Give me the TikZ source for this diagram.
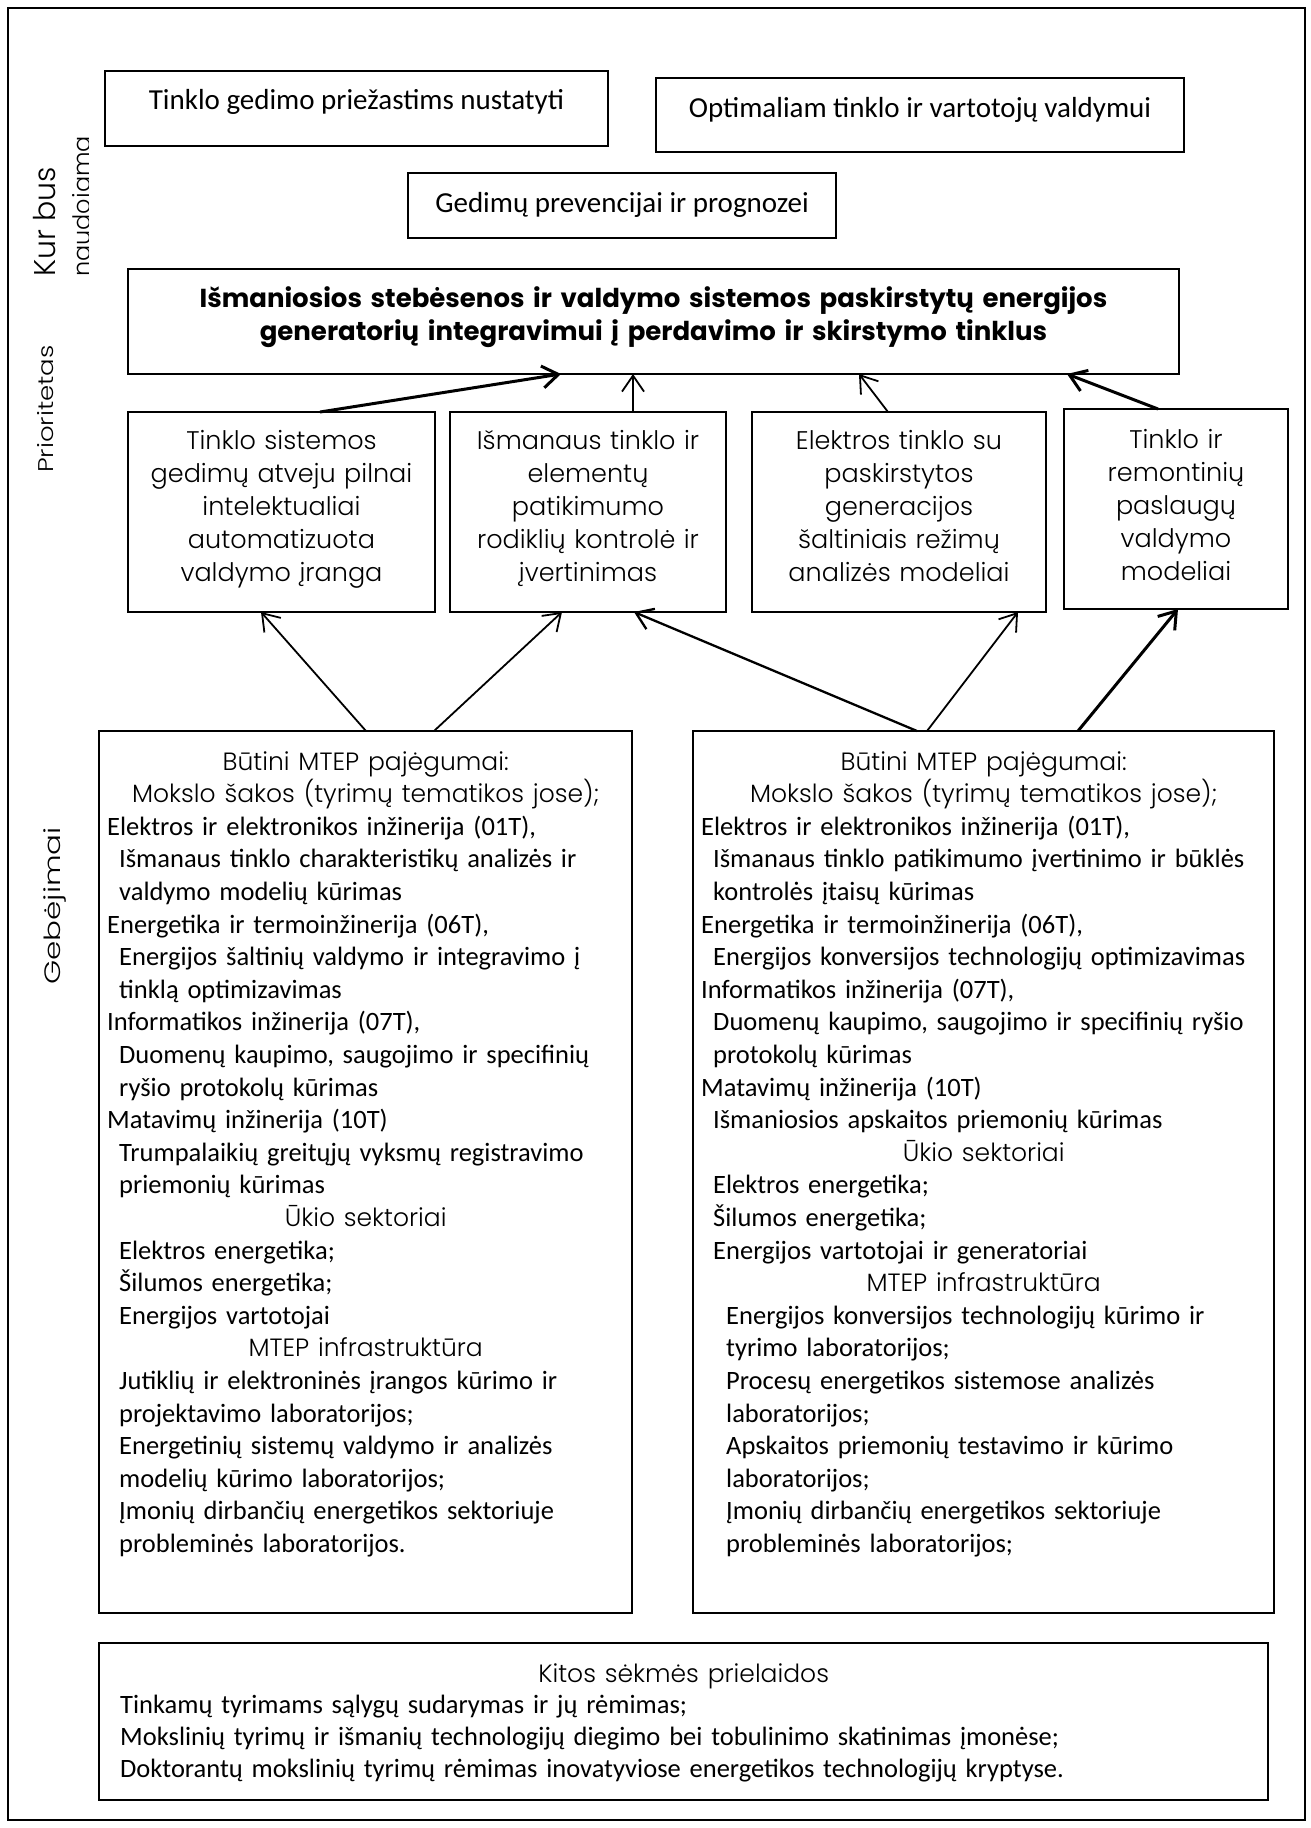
\documentclass[tikz,border=0pt]{standalone}
\usepackage{graphicx}
\usepackage{fontspec}
\setmainfont{Carlito}
\newfontfamily\goth{Poppins}[UprightFont={* Light}, BoldFont={* Bold}]
\usetikzlibrary{arrows.meta}

% centred heading line in the geometric face
\newcommand\cenhd[2]{\makebox[#1][c]{\goth\fontsize{25}{32.6}\selectfont #2}}
\newlength\inA \setlength\inA{8pt}
\newlength\inB \setlength\inB{20pt}
\newlength\inC \setlength\inC{33pt}

\begin{document}
\begin{tikzpicture}[x=1pt,y=-1pt,
  box/.style={draw, line width=1.8pt, inner sep=0pt, outer sep=0pt, anchor=north west},
  toptxt/.style={anchor=base, inner sep=0pt, font=\fontsize{29}{34}\selectfont},
  titletxt/.style={anchor=base, inner sep=0pt, text width=1100pt, align=center,
    font=\goth\bfseries\fontsize{26}{33.5}\selectfont},
  midtxt/.style={anchor=base, inner sep=0pt, text width=320pt, align=center,
    font=\goth\fontsize{25.5}{33}\selectfont},
  listtxt/.style={anchor=base west, inner sep=0pt, text width=1250pt, align=left,
    font=\fontsize{26.5}{32.6}\selectfont},
  sidelab/.style={anchor=base west, inner sep=0pt, rotate=90},
  arr/.style={-{Straight Barb[length=16pt,width=22pt]}, line width=1.8pt},
  arrmid/.style={arr, line width=2.3pt},
  arrthick/.style={arr, line width=3pt}]
\useasboundingbox (0,0) rectangle (1311,1828);

% outer frame
\node[box, minimum width=1297pt, minimum height=1812pt] (frame) at (8,8) {};

% side labels
\node[sidelab, font=\goth\fontsize{30}{34}\selectfont] (labkur) at (55,277) {Kur bus};
\begin{scope}
  \clip (60,130) rectangle (88,300);
  \node[sidelab, font=\goth\fontsize{24}{28}\selectfont] (labnaud) at (90,277) {naudojama};
\end{scope}
\node[sidelab, font=\goth\fontsize{26}{30}\selectfont] (labprior) at (53,473)
  {\scalebox{1}[0.82]{Prioritetas}};
\node[sidelab, font=\goth\fontsize{31}{34}\selectfont] (labgeb) at (60,985)
  {\scalebox{1}[0.72]{Gebėjimai}};

% where the results are used
\node[box, minimum width=503pt, minimum height=75pt] (t1) at (105,71) {};
\node[toptxt] (t1l) at (356.5,110) {Tinklo gedimo priežastims nustatyti};
\node[box, minimum width=528pt, minimum height=74pt] (t2) at (656,78) {};
\node[toptxt] (t2l) at (920,117) {Optimaliam tinklo ir vartotojų valdymui};
\node[box, minimum width=428pt, minimum height=65pt] (t3) at (408,173) {};
\node[toptxt] (t3l) at (622,212) {Gedimų prevencijai ir prognozei};

% priority
\node[box, minimum width=1051pt, minimum height=105pt] (main) at (128,269) {};
\node[titletxt] (mainl) at (653.5,307)
  {Išmaniosios stebėsenos ir valdymo sistemos paskirstytų energijos\\
   generatorių integravimui į perdavimo ir skirstymo tinklus};

% priority directions
\node[box, minimum width=307pt, minimum height=200pt] (b1) at (128,412) {};
\node[midtxt] (b1l) at (281.5,449)
  {Tinklo sistemos\\gedimų atveju pilnai\\intelektualiai\\automatizuota\\valdymo įranga};
\node[box, minimum width=276pt, minimum height=200pt] (b2) at (450,412) {};
\node[midtxt] (b2l) at (588,449)
  {Išmanaus tinklo ir\\elementų\\patikimumo\\rodiklių kontrolė ir\\įvertinimas};
\node[box, minimum width=294pt, minimum height=200pt] (b3) at (752,412) {};
\node[midtxt] (b3l) at (899,449)
  {Elektros tinklo su\\paskirstytos\\generacijos\\šaltiniais režimų\\analizės modeliai};
\node[box, minimum width=224pt, minimum height=200pt] (b4) at (1064,409) {};
\node[midtxt] (b4l) at (1176,448)
  {Tinklo ir\\remontinių\\paslaugų\\valdymo\\modeliai};

% capabilities
\node[box, minimum width=533pt, minimum height=882pt] (capL) at (99,731) {};
\node[listtxt] (capLl) at (99,770) {%
\cenhd{533pt}{Būtini MTEP pajėgumai:}\\
\cenhd{533pt}{Mokslo šakos (tyrimų tematikos jose);}\\
\hspace*{\inA}Elektros ir elektronikos inžinerija (01T),\\
\hspace*{\inB}Išmanaus tinklo charakteristikų analizės ir\\
\hspace*{\inB}valdymo modelių kūrimas\\
\hspace*{\inA}Energetika ir termoinžinerija (06T),\\
\hspace*{\inB}Energijos šaltinių valdymo ir integravimo į\\
\hspace*{\inB}tinklą optimizavimas\\
\hspace*{\inA}Informatikos inžinerija (07T),\\
\hspace*{\inB}Duomenų kaupimo, saugojimo ir specifinių\\
\hspace*{\inB}ryšio protokolų kūrimas\\
\hspace*{\inA}Matavimų inžinerija (10T)\\
\hspace*{\inB}Trumpalaikių greitųjų vyksmų registravimo\\
\hspace*{\inB}priemonių kūrimas\\
\cenhd{533pt}{Ūkio sektoriai}\\
\hspace*{\inB}Elektros energetika;\\
\hspace*{\inB}Šilumos energetika;\\
\hspace*{\inB}Energijos vartotojai\\
\cenhd{533pt}{MTEP infrastruktūra}\\
\hspace*{\inB}Jutiklių ir elektroninės įrangos kūrimo ir\\
\hspace*{\inB}projektavimo laboratorijos;\\
\hspace*{\inB}Energetinių sistemų valdymo ir analizės\\
\hspace*{\inB}modelių kūrimo laboratorijos;\\
\hspace*{\inB}Įmonių dirbančių energetikos sektoriuje\\
\hspace*{\inB}probleminės laboratorijos.};

\node[box, minimum width=581pt, minimum height=882pt] (capR) at (693,731) {};
\node[listtxt] (capRl) at (693,770) {%
\cenhd{581pt}{Būtini MTEP pajėgumai:}\\
\cenhd{581pt}{Mokslo šakos (tyrimų tematikos jose);}\\
\hspace*{\inA}Elektros ir elektronikos inžinerija (01T),\\
\hspace*{\inB}Išmanaus tinklo patikimumo įvertinimo ir būklės\\
\hspace*{\inB}kontrolės įtaisų kūrimas\\
\hspace*{\inA}Energetika ir termoinžinerija (06T),\\
\hspace*{\inB}Energijos konversijos technologijų optimizavimas\\
\hspace*{\inA}Informatikos inžinerija (07T),\\
\hspace*{\inB}Duomenų kaupimo, saugojimo ir specifinių ryšio\\
\hspace*{\inB}protokolų kūrimas\\
\hspace*{\inA}Matavimų inžinerija (10T)\\
\hspace*{\inB}Išmaniosios apskaitos priemonių kūrimas\\
\cenhd{581pt}{Ūkio sektoriai}\\
\hspace*{\inB}Elektros energetika;\\
\hspace*{\inB}Šilumos energetika;\\
\hspace*{\inB}Energijos vartotojai ir generatoriai\\
\cenhd{581pt}{MTEP infrastruktūra}\\
\hspace*{\inC}Energijos konversijos technologijų kūrimo ir\\
\hspace*{\inC}tyrimo laboratorijos;\\
\hspace*{\inC}Procesų energetikos sistemose analizės\\
\hspace*{\inC}laboratorijos;\\
\hspace*{\inC}Apskaitos priemonių testavimo ir kūrimo\\
\hspace*{\inC}laboratorijos;\\
\hspace*{\inC}Įmonių dirbančių energetikos sektoriuje\\
\hspace*{\inC}probleminės laboratorijos;};

% other preconditions
\node[box, minimum width=1169pt, minimum height=157pt] (other) at (99,1643) {};
\node[listtxt, font=\fontsize{26.5}{32}\selectfont] (otherl) at (99,1682) {%
\cenhd{1169pt}{Kitos sėkmės prielaidos}\\[-1pt]
\hspace*{21pt}Tinkamų tyrimams sąlygų sudarymas ir jų rėmimas;\\
\hspace*{21pt}Mokslinių tyrimų ir išmanių technologijų diegimo bei tobulinimo skatinimas įmonėse;\\
\hspace*{21pt}Doktorantų mokslinių tyrimų rėmimas inovatyviose energetikos technologijų kryptyse.};

% directions -> priority
\draw[arrthick] ([xshift=38.5pt]b1.north) -- ([xshift=-92.5pt]main.south);
\draw[arr] ([xshift=45pt]b2.north) -- ([xshift=-20.5pt]main.south);
\draw[arr] ([xshift=-11pt]b3.north) -- ([xshift=205.5pt]main.south);
\draw[arrthick] ([xshift=-18pt]b4.north) -- ([xshift=413.5pt]main.south);

% capabilities -> directions
\draw[arr] ([xshift=0.5pt]capL.north) -- ([xshift=-20.5pt]b1.south);
\draw[arr] ([xshift=68.5pt]capL.north) -- ([xshift=-26pt]b2.south);
\draw[arrmid] ([xshift=-66.5pt]capR.north) -- ([xshift=46pt]b2.south);
\draw[arr] ([xshift=-56.5pt]capR.north) -- ([xshift=119pt]b3.south);
\draw[arrthick] ([xshift=94.5pt]capR.north) -- ([xshift=2pt]b4.south);
\end{tikzpicture}
\end{document}
